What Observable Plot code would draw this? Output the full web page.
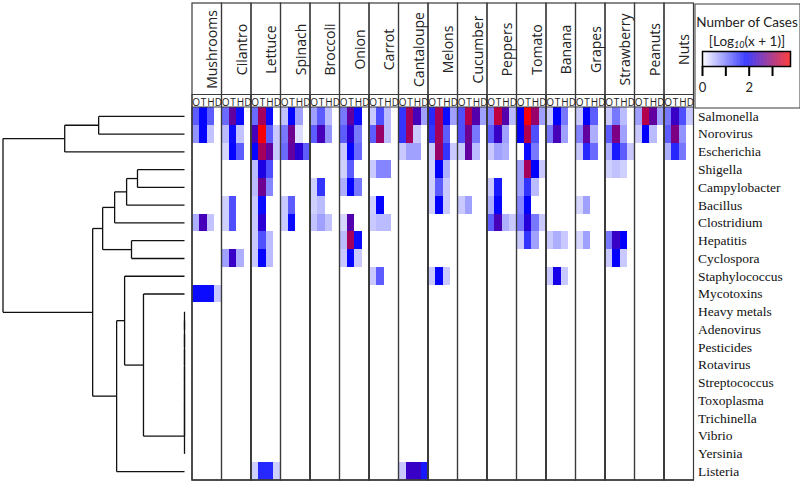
<!DOCTYPE html>
<html><head><meta charset="utf-8">
<script src="https://cdn.jsdelivr.net/npm/d3@7"></script>
<script src="https://cdn.jsdelivr.net/npm/@observablehq/plot@0.6"></script>
<style>
body{margin:0;background:#fff;}
#wrap{position:relative;width:800px;height:484px;overflow:hidden;background:#fff;}
#wrap > svg, #wrap > div{position:absolute;}
#legtitle{left:694px;top:13px;width:106px;text-align:center;font:13.5px Lato,"Open Sans",sans-serif;line-height:19px;color:#222;}
#legtitle sub{font-size:9px;font-style:italic;vertical-align:-2px;}
</style></head><body><div id="wrap"></div>
<script>
// ---- data ----
const rows = ["Salmonella","Norovirus","Escherichia","Shigella","Campylobacter","Bacillus","Clostridium","Hepatitis","Cyclospora","Staphylococcus","Mycotoxins","Heavy metals","Adenovirus","Pesticides","Rotavirus","Streptococcus","Toxoplasma","Trichinella","Vibrio","Yersinia","Listeria"];
const foods = ["Mushrooms","Cilantro","Lettuce","Spinach","Broccoli","Onion","Carrot","Cantaloupe","Melons","Cucumber","Peppers","Tomato","Banana","Grapes","Strawberry","Peanuts","Nuts"];
const subs = ["O","T","H","D"];
// each entry: [row index, O, T, H, D]  (log10(cases+1))
const Mushrooms = [[0,1.2,1.85,1.2,0],[1,0.8,1.85,0.45,0],[6,0.6,2.4,0.45,0],[10,1.8,1.8,1.8,0.4]];
const Cilantro = [[0,1.1,2.6,1.8,0],[1,0.5,1.8,0.45,0],[2,0.3,1.85,1.2,0],[5,0.35,1.3,0,0],[6,0.35,1.3,0,0],[8,0.7,2.3,0.6,0]];
const Lettuce = [[0,1.1,3.1,1.8,0],[1,2.4,3.7,1.2,0.4],[2,1.85,3.1,2.6,0.4],[3,0.5,2.1,1.3,0],[4,0.5,2.7,0.9,0],[5,0.4,1.8,0,0],[6,0.4,2.2,0,0],[7,0.4,1.3,0.5,0],[8,0.4,1.85,0.5,0],[20,0.35,1.6,1.6,0.35]];
const Spinach = [[0,0.45,1.85,0.7,0],[1,1.0,2.7,0.25,0],[2,1.1,2.6,2.2,1.2],[5,0.4,1.2,0,0],[6,0.4,1.8,0,0]];
const Broccoli = [[0,0.7,1.2,0.5,0],[1,1.2,2.4,0.8,0],[4,0.35,1.5,0,0],[5,0.35,0.5,0,0],[6,0.45,0.7,0.45,0]];
const Onion = [[0,1.0,2.6,1.8,0],[1,1.2,2.2,1.0,0],[2,0.4,1.85,1.1,0],[3,0.35,1.2,0,0],[4,0.6,1.85,1.0,0],[6,0.3,2.5,0,0],[7,0.5,3.1,1.8,0],[8,0.4,1.85,0.4,0]];
const Carrot = [[0,0.4,1.3,0.5,0],[1,1.2,3.0,0.5,0],[3,0.4,0.9,0.9,0],[5,0.35,1.85,0,0],[6,0.4,0.5,0.5,0],[9,0.4,1.2,0,0]];
const Cantaloupe = [[0,1.5,3.1,2.4,0.7],[1,1.5,3.1,0.4,0],[2,0.4,0.7,0.7,0],[20,0.4,2.3,2.3,1.7]];
const Melons = [[0,1.6,3.1,1.8,0.7],[1,1.5,3.1,1.2,0],[2,0.4,3.0,1.5,0.4],[3,0.35,1.9,0.6,0],[4,0.35,1.2,0.4,0],[5,0.35,1.9,0.4,0],[9,0.4,1.85,0.4,0]];
const Cucumber = [[0,1.3,3.2,2.5,0.7],[1,1.3,2.7,1.0,0],[2,0.4,2.6,0.5,0],[5,0.4,0.7,0,0]];
const Peppers = [[0,0.95,3.3,2.5,0.5],[1,1.2,2.3,0.7,0],[2,0.4,0.7,0.6,0],[4,0.4,1.7,0,0],[5,0.6,1.85,0,0],[6,1.2,2.4,0.6,0.4]];
const Tomato = [[0,1.9,3.7,3.0,0.7],[1,1.9,3.2,1.3,0],[2,0,1.8,1.0,0],[3,0.7,3.1,1.9,0.4],[4,0.7,1.5,0.5,0],[5,0.9,1.9,0,0],[6,1.0,2.15,1.0,0.4],[7,0.4,1.5,0.7,0]];
const Banana = [[0,0.4,1.9,1.0,0],[1,1.0,2.4,0.7,0],[7,0.4,0.6,0.4,0],[9,0.4,2.05,0.4,0]];
const Grapes = [[0,0.4,1.9,1.2,0],[1,0.9,2.6,0.6,0],[2,0.4,1.6,1.1,0],[5,0.3,0.7,0,0],[7,0.3,0.7,0,0]];
const Strawberry = [[0,0.4,1.0,0.5,0],[1,1.2,2.8,0.7,0],[2,0.6,1.7,1.2,0.4],[3,0.35,0.45,0.35,0],[7,1.0,2.3,1.9,0],[8,0.4,1.9,0.4,0]];
const Peanuts = [[0,0.7,3.2,2.6,0.7],[1,0.4,1.9,0.5,0]];
const Nuts = [[0,1.0,2.3,1.3,0.4],[1,1.2,2.8,0.8,0],[2,0.6,1.6,1.0,0]];
// dendrogram linkage: [child a, child b, merge height]; ids >= 21 are earlier merges
const linkage = [[11,12,0],[21,13,0],[22,14,0],[23,15,0],[24,16,0],[25,17,0],[26,18,0],[27,19,0],
  [10,28,2.26],[9,29,3.30],[30,20,3.74],[3,4,2.59],[32,5,3.19],[33,6,3.85],[7,8,2.92],[34,35,4.51],
  [36,31,5.06],[0,1,4.73],[38,2,6.60],[39,37,10]];
const legendTicks = [0,1,2,3];
const maxValue = 3.77;

// ---- build ----
const byFood = {Mushrooms,Cilantro,Lettuce,Spinach,Broccoli,Onion,Carrot,Cantaloupe,Melons,Cucumber,Peppers,Tomato,Banana,Grapes,Strawberry,Peanuts,Nuts};
const nSub = subs.length;
const cells = foods.flatMap((f, fi) => byFood[f].flatMap(([r, ...vals]) =>
  vals.map((v, j) => ({food: f, col: fi * nSub + j, sub: subs[j], row: rows[r], v})).filter(d => d.v > 0)));
const foodCols = foods.map((f, i) => ({food: f, x1: i * nSub, x2: (i + 1) * nSub}));
const subTicks = d3.range(foods.length * nSub).map(i => i + 0.5);
const colorOpts = {type: "linear", domain: [0, maxValue/2, maxValue], range: ["#ffffff", "#0000ff", "#ff0000"], interpolate: "rgb"};
const lineColor = "#3a3a3a";
const wrap = document.getElementById("wrap");

const main = Plot.plot({
  width: 800, height: 484,
  marginLeft: 192, marginRight: 106, marginTop: 107, marginBottom: 4,
  style: {background: "transparent", overflow: "visible"},
  x: {domain: [0, foods.length * nSub], range: [192, 693.5]},
  y: {domain: rows, padding: 0, round: false, range: [107, 480]},
  color: colorOpts,
  marks: [
    Plot.barX(cells, {x1: "col", x2: d => d.col + 1, y: "row", fill: "v", shapeRendering: "crispEdges"}),
    Plot.rect(foodCols, {x1: "x1", x2: "x2", stroke: lineColor, strokeWidth: 1.2, insetTop: -104}),
    Plot.rect(foodCols, {x1: "x1", x2: "x2", stroke: lineColor, strokeWidth: 1, insetTop: -12.5}),
    Plot.rect(foodCols, {x1: "x1", x2: "x2", stroke: lineColor, strokeWidth: 1}),
    Plot.text(foodCols, {x: d => (d.x1 + d.x2) / 2, text: "food", frameAnchor: "top", dy: -58, rotate: -90, fontSize: 14, fontFamily: "Open Sans", fill: "#222"}),
    Plot.axisX({anchor: "top", ticks: subTicks, tickFormat: d => subs[Math.floor(d) % nSub], tickSize: 0, tickPadding: 1.5, fontSize: 10, fontFamily: "Open Sans", label: null, fill: "#222"}),
    Plot.axisY({anchor: "right", tickSize: 0, tickPadding: 3.5, fontSize: 13.5, fontFamily: "Liberation Serif", label: null, fill: "#111"})
  ]
});
main.style.left = "0px"; main.style.top = "0px";
wrap.appendChild(main);

// dendrogram
const pos = rows.map((r, i) => ({y: i + 0.5, h: 0}));
const segs = [];
for (const [a, b, h] of linkage) {
  const A = pos[a], B = pos[b];
  segs.push({x1: A.h, y1: A.y, x2: h, y2: A.y});
  segs.push({x1: B.h, y1: B.y, x2: h, y2: B.y});
  segs.push({x1: h, y1: A.y, x2: h, y2: B.y});
  pos.push({y: (A.y + B.y) / 2, h});
}
const dendro = Plot.plot({
  width: 192, height: 484,
  style: {background: "transparent", overflow: "visible"},
  x: {domain: [10, 0], range: [2.5, 184], axis: null},
  y: {domain: [0, rows.length], range: [107, 480], axis: null},
  marks: [Plot.link(segs, {x1: "x1", y1: "y1", x2: "x2", y2: "y2", stroke: "#111", strokeWidth: 1.3})]
});
dendro.style.left = "0px"; dendro.style.top = "0px";
wrap.appendChild(dendro);

// legend
const ramp = d3.range(0, maxValue, 0.01);
const leg = Plot.plot({
  width: 106, height: 105,
  marginLeft: 8, marginRight: 10, marginTop: 48, marginBottom: 42,
  style: {background: "transparent", overflow: "visible"},
  x: {domain: [0, maxValue], axis: null},
  color: colorOpts,
  marks: [
    Plot.rect(ramp, {x1: d => d, x2: d => Math.min(maxValue, d + 0.012), fill: d => d}),
    Plot.frame({stroke: "#000", strokeWidth: 1.5}),
    Plot.frame({stroke: lineColor, strokeWidth: 1, insetTop: -47.5, insetLeft: -7.5, insetRight: -9.5, insetBottom: -41.5}),
    Plot.axisX({ticks: legendTicks, tickSize: 10, strokeWidth: 2, tickPadding: 6, fontSize: 13, fontFamily: "Lato", label: null,
      tickFormat: d => d % 2 === 0 ? String(d) : "", fill: "#222"})
  ]
});
leg.style.left = "694px"; leg.style.top = "3px";
wrap.appendChild(leg);

const t = document.createElement("div");
t.id = "legtitle";
t.innerHTML = "Number of Cases<br>[Log<sub>10</sub>(x + 1)]";
wrap.appendChild(t);
</script></body></html>
